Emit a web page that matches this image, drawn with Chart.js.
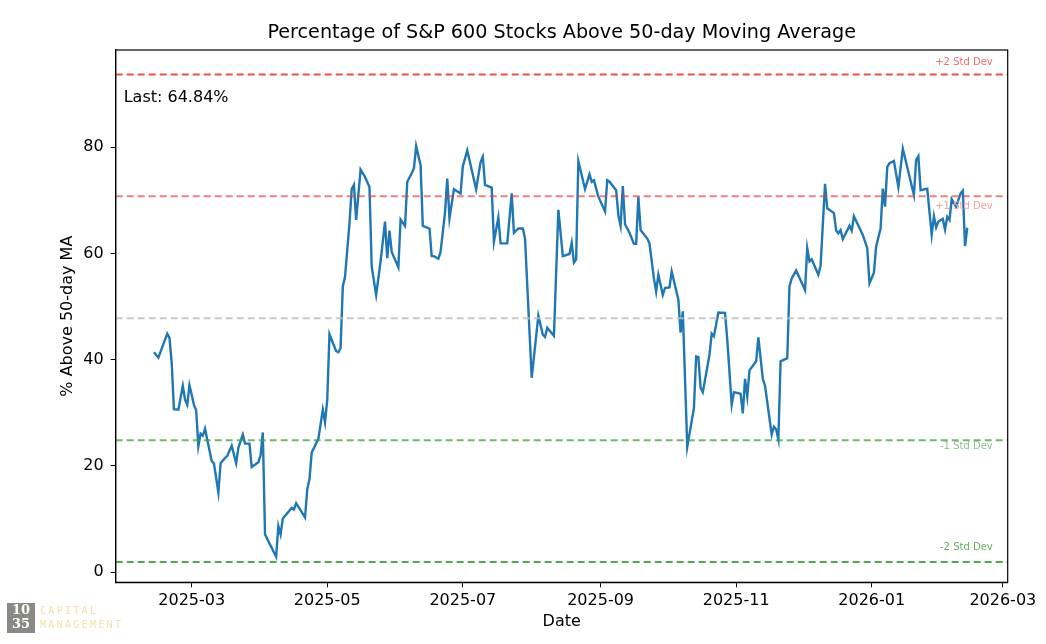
<!DOCTYPE html>
<html>
<head>
<meta charset="utf-8">
<script src="https://cdn.jsdelivr.net/npm/chart.js@4.4.1/dist/chart.umd.min.js"></script>
<style>
  body { margin: 0; background: #fff; }
  #wrap { width: 1046px; height: 644px; position: relative; }
</style>
</head>
<body>
<div id="wrap"><canvas id="breadthChart" width="1046" height="644"></canvas></div>
<script>
// --- data ---
const dates = [
  '2025-02-12','2025-02-14','2025-02-18','2025-02-19','2025-02-20','2025-02-21','2025-02-23','2025-02-25','2025-02-26','2025-02-27',
  '2025-02-28','2025-03-01','2025-03-02','2025-03-03','2025-03-04','2025-03-05','2025-03-06','2025-03-07','2025-03-08','2025-03-10',
  '2025-03-11','2025-03-13','2025-03-14','2025-03-16','2025-03-17','2025-03-19','2025-03-21','2025-03-22','2025-03-24','2025-03-25',
  '2025-03-27','2025-03-28','2025-03-31','2025-04-01','2025-04-02','2025-04-03','2025-04-08','2025-04-09','2025-04-10','2025-04-11',
  '2025-04-15','2025-04-16','2025-04-17','2025-04-21','2025-04-22','2025-04-23','2025-04-24','2025-04-27','2025-04-29','2025-04-30',
  '2025-05-01','2025-05-02','2025-05-05','2025-05-06','2025-05-07','2025-05-08','2025-05-09','2025-05-11','2025-05-12','2025-05-13',
  '2025-05-14','2025-05-16','2025-05-18','2025-05-20','2025-05-21','2025-05-23','2025-05-25','2025-05-27','2025-05-28','2025-05-29',
  '2025-05-30','2025-06-02','2025-06-03','2025-06-05','2025-06-06','2025-06-08','2025-06-09','2025-06-10','2025-06-12','2025-06-13',
  '2025-06-16','2025-06-17','2025-06-18','2025-06-20','2025-06-21','2025-06-23','2025-06-24','2025-06-25','2025-06-27','2025-06-30',
  '2025-07-01','2025-07-03','2025-07-07','2025-07-09','2025-07-10','2025-07-11','2025-07-14','2025-07-15','2025-07-17','2025-07-18',
  '2025-07-21','2025-07-23','2025-07-24','2025-07-26','2025-07-28','2025-07-29','2025-08-01','2025-08-04','2025-08-06','2025-08-07',
  '2025-08-08','2025-08-11','2025-08-13','2025-08-15','2025-08-18','2025-08-19','2025-08-20','2025-08-21','2025-08-22','2025-08-25',
  '2025-08-27','2025-08-28','2025-08-29','2025-08-31','2025-09-03','2025-09-04','2025-09-05','2025-09-08','2025-09-09','2025-09-10',
  '2025-09-11','2025-09-12','2025-09-14','2025-09-16','2025-09-17','2025-09-18','2025-09-19','2025-09-22','2025-09-23','2025-09-25',
  '2025-09-26','2025-09-27','2025-09-29','2025-09-30','2025-10-02','2025-10-03','2025-10-06','2025-10-07','2025-10-08','2025-10-10',
  '2025-10-13','2025-10-14','2025-10-15','2025-10-16','2025-10-17','2025-10-20','2025-10-21','2025-10-22','2025-10-24','2025-10-27',
  '2025-10-28','2025-10-30','2025-10-31','2025-11-03','2025-11-04','2025-11-05','2025-11-06','2025-11-07','2025-11-10','2025-11-11',
  '2025-11-13','2025-11-14','2025-11-17','2025-11-18','2025-11-19','2025-11-20','2025-11-21','2025-11-24','2025-11-25','2025-11-26',
  '2025-11-28','2025-12-02','2025-12-03','2025-12-04','2025-12-05','2025-12-08','2025-12-09','2025-12-11','2025-12-12','2025-12-15',
  '2025-12-16','2025-12-17','2025-12-18','2025-12-19','2025-12-22','2025-12-23','2025-12-24','2025-12-28','2025-12-30','2025-12-31',
  '2026-01-02','2026-01-03','2026-01-05','2026-01-06','2026-01-07','2026-01-08','2026-01-09','2026-01-11','2026-01-13','2026-01-15',
  '2026-01-20','2026-01-21','2026-01-22','2026-01-23','2026-01-26','2026-01-28','2026-01-29','2026-01-30','2026-01-31','2026-02-02',
  '2026-02-03','2026-02-04','2026-02-05','2026-02-06','2026-02-08','2026-02-10','2026-02-11','2026-02-12','2026-02-13'
];
const pctAbove = [
  41.4, 40.4, 44.9, 44.1, 39.4, 30.7, 30.6, 35.1, 32.5, 31.5,
  35.2, 33.4, 31.5, 30.5, 23.7, 26.1, 25.7, 27.0, 25.0, 20.9,
  20.5, 15.0, 20.5, 21.5, 21.9, 23.8, 20.5, 23.4, 25.9, 24.2,
  24.2, 19.8, 20.7, 22.0, 26.3, 7.1, 2.9, 8.7, 7.1, 10.1,
  12.1, 11.8, 13.0, 10.3, 15.6, 17.5, 22.5, 25.1, 30.6, 28.2,
  32.5, 44.8, 41.6, 41.4, 42.2, 53.8, 55.6, 65.7, 72.1, 72.9,
  66.3, 75.8, 74.4, 72.5, 57.5, 52.2, 58.5, 66.0, 59.1, 64.3,
  60.3, 57.4, 66.4, 65.2, 73.5, 75.1, 76.0, 80.2, 76.6, 65.2,
  64.7, 59.5, 59.5, 59.0, 60.3, 67.8, 74.1, 66.6, 72.1, 71.3,
  76.4, 79.4, 72.1, 77.2, 78.2, 72.9, 72.4, 62.2, 66.8, 61.9,
  61.9, 71.3, 63.9, 64.7, 64.7, 62.8, 36.6, 48.3, 44.7, 44.3,
  46.0, 44.5, 68.2, 59.5, 59.9, 62.0, 58.3, 58.9, 77.4, 72.1,
  74.9, 73.5, 73.8, 70.7, 67.9, 73.8, 73.5, 71.9, 67.2, 65.2,
  72.7, 65.5, 63.9, 61.8, 61.8, 70.7, 64.4, 62.8, 61.9, 55.3,
  52.8, 56.0, 52.2, 53.5, 53.6, 56.6, 51.3, 45.1, 49.1, 23.6,
  30.9, 40.6, 40.5, 34.7, 33.9, 40.9, 44.9, 44.4, 48.9, 48.8,
  43.8, 31.5, 33.9, 33.6, 29.9, 36.4, 33.1, 38.0, 39.7, 44.2,
  36.4, 35.1, 25.9, 27.4, 26.9, 25.0, 39.7, 40.3, 53.8, 55.3,
  56.8, 53.1, 61.0, 58.5, 58.9, 56.0, 57.7, 73.1, 68.5, 67.6,
  64.3, 63.8, 64.4, 62.7, 65.2, 64.3, 67.0, 63.5, 61.0, 54.4,
  56.4, 61.3, 64.7, 72.2, 68.8, 76.3, 77.0, 77.4, 72.5, 79.7,
  71.0, 77.6, 78.3, 71.9, 72.2, 63.5, 67.0, 64.9, 66.0, 66.5,
  64.5, 66.9, 66.3, 70.2, 68.8, 71.3, 71.8, 61.4, 64.84
];
const xTickLabels = ['2025-03', '2025-05', '2025-07', '2025-09', '2025-11', '2026-01', '2026-03'];
const yTickValues = [0, 20, 40, 60, 80];
const bandNames = ['+2 Std Dev', '+1 Std Dev', 'Mean', '-1 Std Dev', '-2 Std Dev'];
const bandLevels = [93.7, 70.75, 47.8, 24.85, 1.9];

document.addEventListener('DOMContentLoaded', function() {
    const toDay = s => {
        const p = s.split('-').map(Number);
        return Date.UTC(p[0], p[1] - 1, p[2] || 1) / 86400000;
    };
    const xMin = toDay('2025-01-26') - 0.2;
    const xMax = toDay('2026-03-03') + 0.2;

    const bandColors = ['rgba(232,60,55,0.9)', 'rgba(232,60,55,0.65)', 'rgba(190,190,190,0.85)', 'rgba(60,160,60,0.75)', 'rgba(60,160,60,0.9)'];
    const bandTextColors = ['#e8706b', '#f0a29d', null, '#8cc48c', '#62b062'];

    const lineData = dates.map((d, i) => ({ x: toDay(d), y: pctAbove[i] }));

    const datasets = bandLevels.map((lvl, i) => ({
        label: bandNames[i],
        data: [{ x: xMin, y: lvl }, { x: xMax, y: lvl }],
        borderColor: bandColors[i],
        borderWidth: 2,
        borderDash: [7, 4],
        pointRadius: 0,
        fill: false
    }));
    datasets.push({
        label: '% Above 50-day MA',
        data: lineData,
        borderColor: '#1f77b4',
        borderWidth: 2.4,
        pointRadius: 0,
        tension: 0,
        fill: false
    });

    // Custom plugin for the matplotlib style text and frame
    const decorPlugin = {
        id: 'decor',
        afterDraw: chart => {
            const ctx = chart.ctx;
            const a = chart.chartArea;
            const ys = chart.scales.y;
            ctx.save();

            // frame
            ctx.strokeStyle = '#000';
            ctx.lineWidth = 1.2;
            ctx.strokeRect(a.left, a.top, a.right - a.left, a.bottom - a.top);

            // title
            ctx.fillStyle = '#000';
            ctx.textAlign = 'center';
            ctx.textBaseline = 'middle';
            ctx.font = '19.2px "DejaVu Sans"';
            ctx.fillText('Percentage of S&P 600 Stocks Above 50-day Moving Average', (a.left + a.right) / 2, 33);

            // axis titles
            ctx.font = '16px "DejaVu Sans"';
            ctx.fillText('Date', (a.left + a.right) / 2, 622);
            ctx.save();
            ctx.translate(68, (a.top + a.bottom) / 2);
            ctx.rotate(-Math.PI / 2);
            ctx.fillText('% Above 50-day MA', 0, 0);
            ctx.restore();

            // last value note
            ctx.textAlign = 'left';
            ctx.fillText('Last: ' + pctAbove[pctAbove.length - 1].toFixed(2) + '%', a.left + 8, 98);

            // std dev labels
            ctx.font = '10px "DejaVu Sans"';
            ctx.textAlign = 'right';
            const offsets = [-12, 10, 0, 6, -15];
            bandLevels.forEach((lvl, i) => {
                if (!bandTextColors[i]) return;
                ctx.fillStyle = bandTextColors[i];
                ctx.fillText(bandNames[i], a.right - 15, ys.getPixelForValue(lvl) + offsets[i]);
            });

            // watermark
            ctx.fillStyle = '#8a8a85';
            ctx.fillRect(7, 603, 28, 30);
            ctx.fillStyle = '#fff';
            ctx.textAlign = 'center';
            ctx.font = 'bold 13px "DejaVu Serif"';
            ctx.fillText('10', 21, 611);
            ctx.fillText('35', 21, 625);
            ctx.fillStyle = '#efe2aa';
            ctx.textAlign = 'left';
            ctx.font = '10px "DejaVu Sans Mono"';
            ctx.letterSpacing = '2.3px';
            ctx.fillText('CAPITAL', 40, 611);
            ctx.fillText('MANAGEMENT', 40, 625);
            ctx.restore();
        }
    };

    new Chart(document.getElementById('breadthChart'), {
        type: 'line',
        data: { datasets: datasets },
        options: {
            responsive: false,
            animation: false,
            layout: { padding: { top: 50, right: 38.3, left: 0, bottom: 0 } },
            plugins: {
                legend: { display: false },
                tooltip: { enabled: false },
                title: { display: false }
            },
            scales: {
                x: {
                    type: 'linear',
                    min: xMin,
                    max: xMax,
                    afterBuildTicks: s => { s.ticks = xTickLabels.map(l => ({ value: toDay(l + '-01') })); },
                    afterFit: s => { s.height = 61.7; },
                    ticks: {
                        autoSkip: false,
                        maxRotation: 0,
                        padding: 4,
                        color: '#000',
                        font: { family: 'DejaVu Sans', size: 16 },
                        callback: function(value) {
                            const d = new Date(value * 86400000);
                            return d.getUTCFullYear() + '-' + String(d.getUTCMonth() + 1).padStart(2, '0');
                        }
                    },
                    grid: { drawOnChartArea: false, color: '#000', tickLength: 5 },
                    border: { color: '#000', width: 1.2 }
                },
                y: {
                    min: -1.9,
                    max: 98.3,
                    afterBuildTicks: s => { s.ticks = yTickValues.map(v => ({ value: v })); },
                    afterFit: s => { s.width = 115.7; },
                    ticks: {
                        padding: 7,
                        color: '#000',
                        font: { family: 'DejaVu Sans', size: 16 }
                    },
                    grid: { drawOnChartArea: false, color: '#000', tickLength: 5 },
                    border: { color: '#000', width: 1.2 }
                }
            }
        },
        plugins: [decorPlugin]
    });
});
</script>
</body>
</html>
